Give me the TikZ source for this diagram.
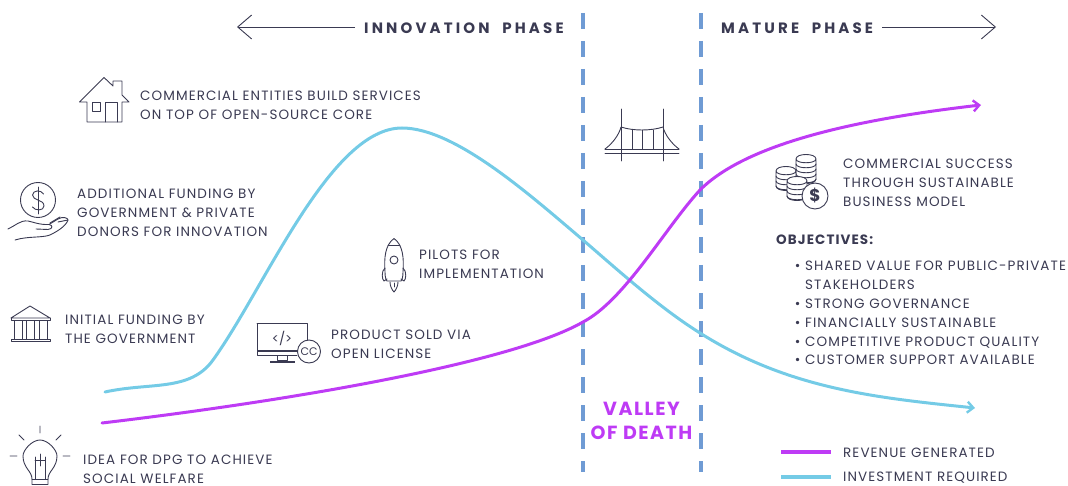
\documentclass[tikz,border=0pt]{standalone}
\usepackage{fontspec}
\setmainfont{Poppins}
\newfontfamily\lbl[LetterSpace=8]{Poppins}
\newfontfamily\hdr[LetterSpace=21,WordSpace=2]{Poppins}
\newfontfamily\objf[LetterSpace=8]{Poppins}
\newfontfamily\vod[LetterSpace=8]{Poppins}
\usetikzlibrary{arrows.meta}
\definecolor{ink}{HTML}{3A3A52}
\definecolor{blueC}{HTML}{74CBE6}
\definecolor{purp}{HTML}{BE3BF5}
\definecolor{dashC}{HTML}{6F9BD4}
\tikzset{
 x=1pt,y=-1pt,
 txt/.style={anchor=west,align=left,text=ink,font=\lbl\fontsize{13.5}{19}\selectfont,inner sep=0pt},
 head/.style={anchor=west,text=ink,font=\hdr\bfseries\fontsize{15}{18}\selectfont,inner sep=0pt},
 curve/.style={line width=3pt,line cap=round},
 divider/.style={dashC,line width=3.6pt,dash pattern=on 16pt off 12pt},
 ico/.style={ink,line width=.9pt,line join=round,line cap=round},
 phase/.style={ink,line width=.9pt,-{Straight Barb[length=14pt,width=24pt,line width=.9pt]}},
 tipC/.style={-{Straight Barb[length=6pt,width=11pt,line width=2.4pt]}}
}
\begin{document}
\begin{tikzpicture}
\useasboundingbox (0,0) rectangle (1068,486);
% dividers
\coordinate (d1a) at (583,13); \coordinate (d1b) at (583,472);
\coordinate (d2a) at (701,13); \coordinate (d2b) at (701,472);
\draw[divider] (d1a) -- (d1b);
\draw[divider] (d2a) -- (d2b);
% curves
\draw[curve,blueC,tipC] (105,392) .. controls (150,382) and (190,392) .. (213,360) .. controls (265,288) and (330,128) .. (402,128) .. controls (455,128) and (530,195) .. (583,240) .. controls (620,272) and (660,308) .. (700,333) .. controls (790,390) and (880,398) .. (975,408);
\draw[curve,purp,tipC] (102,423) .. controls (280,402) and (510,364) .. (583,322) .. controls (625,300) and (665,228) .. (700,190) .. controls (745,145) and (850,120) .. (981,105);
% phases
\node[head] (inn) at (364,28.5) {INNOVATION PHASE};
\node[head] (mat) at (721,28.5) {MATURE PHASE};
\coordinate (innEnd) at (237,27); \coordinate (matEnd) at (996,27);
\draw[phase] (inn.west) ++(-9,-1.5) -- (innEnd);
\draw[phase] (mat.east) ++(9,-1.5) -- (matEnd);
% labels
\node[txt] (t1) at (140,105) {COMMERCIAL ENTITIES BUILD SERVICES\\ON TOP OF OPEN-SOURCE CORE};
\node[txt] (t2) at (77,213) {ADDITIONAL FUNDING BY\\GOVERNMENT \& PRIVATE\\DONORS FOR INNOVATION};
\node[txt] (t3) at (65,329) {INITIAL FUNDING BY\\THE GOVERNMENT};
\node[txt] (t4) at (83,469) {IDEA FOR DPG TO ACHIEVE\\SOCIAL WELFARE};
\node[txt] (t5) at (331,344) {PRODUCT SOLD VIA\\OPEN LICENSE};
\node[txt] (t6) at (419,264) {PILOTS FOR\\IMPLEMENTATION};
\node[txt] (t7) at (843,183) {COMMERCIAL SUCCESS\\THROUGH SUSTAINABLE\\BUSINESS MODEL};
\node[anchor=west,inner sep=0pt,text=ink,font=\objf\bfseries\fontsize{13.5}{19}\selectfont] (obj) at (776,240) {OBJECTIVES:};
\node[txt,font=\lbl\fontsize{13.5}{18.9}\selectfont] (t8) at (805,313) {\llap{\textbullet\ }SHARED VALUE FOR PUBLIC-PRIVATE\\STAKEHOLDERS\\\llap{\textbullet\ }STRONG GOVERNANCE\\\llap{\textbullet\ }FINANCIALLY SUSTAINABLE\\\llap{\textbullet\ }COMPETITIVE PRODUCT QUALITY\\\llap{\textbullet\ }CUSTOMER SUPPORT AVAILABLE};
\node[anchor=center,align=center,inner sep=0pt,text=purp,font=\vod\bfseries\fontsize{19}{24}\selectfont] (v) at (641.5,421) {VALLEY\\OF DEATH};
% legend
\coordinate (l1a) at (781,452); \coordinate (l1b) at (831,452);
\coordinate (l2a) at (781,477); \coordinate (l2b) at (831,477);
\draw[purp,line width=3.4pt] (l1a) -- (l1b);
\draw[blueC,line width=3.4pt] (l2a) -- (l2b);
\node[txt] (lg1) at (843,453) {REVENUE GENERATED};
\node[txt] (lg2) at (843,478) {INVESTMENT REQUIRED};
% house
\draw[ico] (79.5,102) -- (104,77.5) -- (113,86) -- (113,81) -- (122,81) -- (122,95) -- (129,102) -- (122,102) -- (122,122) -- (87,122) -- (87,102) -- cycle;
\draw[ico] (92,102) rectangle (100,111);
\draw[ico] (105,122) -- (105,102) -- (117,102) -- (117,122);
% hand and coin
\draw[ico] (38,200) circle (17.5);
\draw[ico] (38,187) -- (38,214);
\draw[ico] (43.5,194) .. controls (41,189.5) and (33,190) .. (32.5,195) .. controls (32.5,201) and (44,199) .. (44,206) .. controls (44,211) and (35,211) .. (32.5,207);
\draw[ico] (8,229) .. controls (15,226) and (20,220) .. (28,221) .. controls (33,222) and (40,225) .. (49,224.5) .. controls (53,225) and (53,229) .. (48,229.5) -- (36,229);
\draw[ico] (49,224.5) -- (58,219) .. controls (63,216) and (68,218) .. (68,220) .. controls (66,226) and (58,231) .. (50,235) .. controls (42,238) and (28,236) .. (15,240);
\draw[ico] (50,223) -- (60,217) (58,222) -- (68,220);
% temple
\draw[ico] (11,318) -- (30,306) -- (50,318) -- cycle;
\draw[ico] (11,318) -- (11,320) -- (50,320) -- (50,318);
\draw[ico] (11,339) rectangle (50,341.5);
\foreach \x in {14,26,39}{\draw[ico] (\x,320) rectangle (\x+8,339);}
% monitor
\draw[ico] (257,323.5) -- (307,323.5) -- (307,345);
\draw[ico] (257,323.5) -- (257,355) -- (297,355);
\draw[ink,line width=1.4pt] (257,351) -- (298,351);
\draw[ink,line width=1.6pt] (270,362) -- (295,362);
\draw[ico] (277,355) rectangle (287,360);
\node[inner sep=0pt,text=ink,font=\fontsize{13}{13}\selectfont] (code) at (282,338) {</>};
\draw[ico,fill=white] (309,351.5) circle (11.5);
\node[inner sep=0pt,text=ink,font=\fontsize{11}{11}\selectfont] (cc) at (309,351.5) {CC};
% bulb
\draw[ico] (32,484) -- (32,479) .. controls (32,471) and (23,468) .. (23,456) .. controls (23,450) and (32,440) .. (40,440) .. controls (48,440) and (57,450) .. (57,456) .. controls (57,468) and (48,471) .. (48,479) -- (48,484);
\draw[ico] (32,479) -- (48,479) (32,484) -- (48,484) (33,486) -- (47,486);
\draw[ico] (35,479) -- (35,457) (45,479) -- (45,457) (35,460) -- (45,460) (40,454) -- (40,466);
\draw[ico] (40,426) -- (40,433) (19,435) -- (24,440) (61,435) -- (56,440) (10,456) -- (17,456) (63,456) -- (70,456);
% rocket
\draw[ico] (394,238.5) .. controls (385,245) and (384,258) .. (385,272) .. controls (385,277) and (386,280) .. (387,281) -- (401,281) .. controls (402,280) and (403,277) .. (403,272) .. controls (404,258) and (403,245) .. (394,238.5) -- cycle;
\draw[ico] (388,245) -- (400,245);
\draw[ico] (394,260) circle (4);
\draw[ico] (385,268) .. controls (381,271) and (382,280) .. (384,281) -- (387,279);
\draw[ico] (403,268) .. controls (407,271) and (406,280) .. (404,281) -- (401,279);
\draw[ico] (390,282) .. controls (390,286) and (392,290) .. (394,292) .. controls (396,290) and (398,286) .. (398,282);
\draw[ico] (394,283) -- (394,287);
% bridge
\draw[ico] (621,109) -- (621,161) (663,109) -- (663,161);
\draw[ico] (605,149) .. controls (612,144) and (619,135) .. (621,127) .. controls (633,131) and (651,131) .. (663,127) .. controls (665,135) and (672,144) .. (679,149);
\draw[ico] (605,149) -- (679,149) (605,153) -- (679,153);
\foreach \x in {632,642,653}{\draw[ico] (\x,130) -- (\x,149);}
% coins
\foreach \cx/\cy/\n in {806/159/4,786/171/3,797/181/3}{
 \draw[ico,fill=white] (\cx-10,\cy) -- (\cx-10,\cy+\n*5) .. controls (\cx-10,\cy+\n*5+6) and (\cx+10,\cy+\n*5+6) .. (\cx+10,\cy+\n*5) -- (\cx+10,\cy) .. controls (\cx+10,\cy-6) and (\cx-10,\cy-6) .. (\cx-10,\cy) .. controls (\cx-10,\cy+5) and (\cx+10,\cy+5) .. (\cx+10,\cy);
 \foreach \k in {1,...,\n}{\draw[ico] (\cx-10,\cy+\k*5) .. controls (\cx-10,\cy+\k*5+5) and (\cx+10,\cy+\k*5+5) .. (\cx+10,\cy+\k*5);}
}
\draw[ico,fill=white] (815,196) circle (13);
\node[inner sep=0pt,text=ink,font=\fontsize{17}{17}\selectfont\bfseries] (dollar) at (815,196) {\$};
\end{tikzpicture}
\end{document}
